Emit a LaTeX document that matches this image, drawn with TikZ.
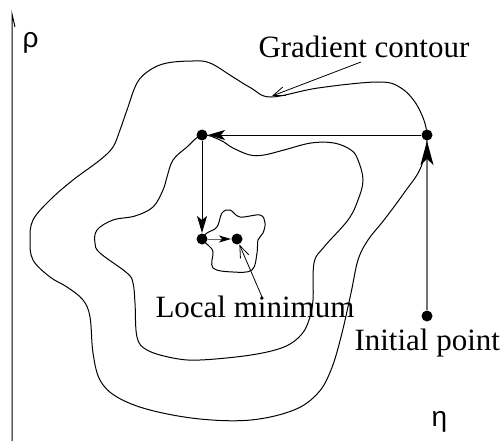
\documentclass[tikz,border=0pt]{standalone}
\usepackage{fontspec}
\setmainfont{Liberation Serif}
\newfontfamily\gsans{Liberation Sans}
\usetikzlibrary{arrows.meta}
\begin{document}
\begin{tikzpicture}[x=1pt,y=-1pt,line width=1pt,
  dotnode/.style={circle,fill=black,inner sep=0pt,minimum size=11pt},
  lbl/.style={inner sep=0pt,font=\fontsize{31}{36}\selectfont},
  glbl/.style={inner sep=0pt,font=\gsans\fontsize{28}{32}\selectfont},
  contour/.style={line width=1pt,smooth cycle,tension=0.6},
  bigtip/.style={-{Stealth[length=24pt,width=13pt,inset=6pt,color=black]}},
  midtip/.style={-{Stealth[length=17pt,width=10pt,inset=4pt,color=black]}},
  smalltip/.style={-{Stealth[length=12pt,width=7pt,inset=3pt,color=black]}},
  pointer/.style={line width=0.8pt,-{Straight Barb[length=12pt,width=9pt,line width=0.8pt]}}]
\useasboundingbox (0,0) rectangle (502,441);
% axis
\coordinate (axb) at (12,441);
\coordinate (axt) at (12,14);
\coordinate (axh) at (15,27);
\draw (axb) -- (axt) -- (axh);
\node[glbl,anchor=base west] (rho) at (22,48) {ρ};
\node[glbl,anchor=base west] (eta) at (431,426) {η};
% contour coordinates
\coordinate (pA) at (202,135);
\coordinate (pB) at (427,135);
\coordinate (pC) at (202,239);
% outer contour
\draw plot[contour] coordinates {(427,135) (421,167) (404,193) (384,220) (368,240) (358,260) (351,293) (341,337) (331,370) (318,393) (294,410) (251,420) (200,419) (150,410) (117,397) (100,380) (93,353) (90,317) (83,300) (67,287) (50,277) (33,260) (30,240) (33,220) (50,200) (73,180) (100,160) (113,147) (120,130) (127,110) (137,83) (150,70) (167,63) (193,61) (210,63) (233,77) (251,88) (271,97) (318,88) (378,82) (401,88) (418,107)};
% middle contour
\draw plot[contour] coordinates {(202,135) (187,147) (173,160) (167,177) (163,190) (153,207) (135,216) (113,220) (97,230) (95,243) (100,253) (127,273) (133,283) (135,303) (137,337) (147,350) (173,358) (200,360) (251,355) (284,347) (301,335) (309,320) (313,300) (314,263) (324,247) (348,220) (358,200) (363,180) (358,160) (351,150) (334,143) (311,143) (284,150) (264,155) (250,155) (233,148) (220,140)};
% small contour
\draw plot[contour] coordinates {(202,239) (207,233) (217,227) (222,213) (230,210) (240,217) (260,215) (265,223) (263,233) (258,240) (257,253) (252,270) (233,272) (213,268) (213,252) (209,246)};
% dots
\node[dotnode] (A) at (pA) {};
\node[dotnode] (B) at (pB) {};
\node[dotnode] (C) at (pC) {};
\node[dotnode] (D) at (237,239) {};
\node[dotnode] (E) at (427,316) {};
% path arrows
\draw[bigtip,draw=black!55,line width=1.3pt] (E) -- (B);
\draw[midtip] (B) -- (A);
\draw[midtip] (A) -- (C);
\draw[smalltip,draw=black!60] (C) -- (D);
% labels
\node[lbl,anchor=base west] (gc) at (258,58) {Gradient contour};
\node[lbl,anchor=base west] (lm) at (155,317) {Local minimum};
\node[lbl,anchor=base west] (ip) at (354,350) {Initial point};
\coordinate (gct) at (361,62);
\coordinate (gch) at (272,96);
\draw[pointer] (gct) -- (gch);
\coordinate (lmt) at (262,297);
\draw[pointer] (lmt) -- (D);
\end{tikzpicture}
\end{document}
